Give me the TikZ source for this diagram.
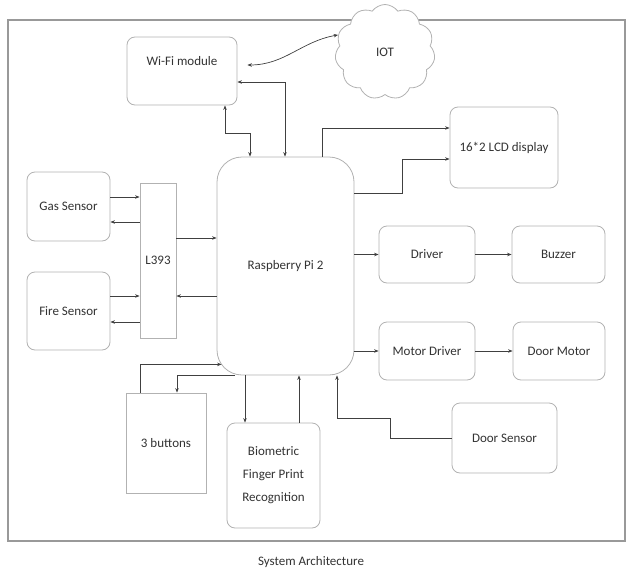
\documentclass[tikz,border=0pt]{standalone}
\usepackage{fontspec}
\setmainfont{Carlito}
\usetikzlibrary{shapes.symbols,arrows.meta}

\tikzset{
  box/.style={draw=black!30, fill=white, rounded corners=8pt, line width=0.8pt, text=black!80},
  sqbox/.style={draw=black!30, fill=white, line width=0.8pt, text=black!80},
  link/.style={draw=black!75, line width=0.7pt}
}

\begin{document}
\begin{tikzpicture}[x=1pt, y=-1pt, font=\fontsize{13}{15}\selectfont,
  >={Stealth[length=4.5pt,width=3.5pt]}]
  \useasboundingbox (0,0) rectangle (627,573);
  \draw[black!40, line width=1.6pt] (8,20) rectangle (625,541);

  \node[box, minimum width=110pt, minimum height=68pt,
    label={[below=16pt, text=black!80]north:Wi-Fi module}] (wifi) at (182,71) {};
  \node[cloud, cloud puffs=11, cloud puff arc=110, draw=black!30, fill=white,
    line width=0.8pt, text=black!80, minimum width=100pt, minimum height=95pt] (iot) at (385,52) {IOT};
  \node[box, minimum width=108pt, minimum height=81pt] (lcd) at (504,147.5) {16*2 LCD display};
  \node[box, rounded corners=25pt, minimum width=137pt, minimum height=218pt] (pi) at (285.5,266) {Raspberry Pi 2};

  \node[box, minimum width=96pt, minimum height=57pt] (drv) at (427,254.5) {Driver};
  \node[box, minimum width=93pt, minimum height=57pt] (buz) at (558.5,254.5) {Buzzer};
  \node[box, minimum width=96pt, minimum height=58pt] (mdrv) at (427,351) {Motor Driver};
  \node[box, minimum width=92pt, minimum height=58pt] (dmot) at (559,351) {Door Motor};
  \node[box, minimum width=105pt, minimum height=70pt] (dsen) at (504.5,438) {Door Sensor};

  \node[box, minimum width=93pt, minimum height=105pt, align=center,
    font=\fontsize{13}{23}\selectfont] (bio) at (273.5,475.5) {Biometric\\Finger Print\\Recognition};
  \node[sqbox, minimum width=80pt, minimum height=100pt] (btn) at (166,443) {3 buttons};

  \node[box, minimum width=83pt, minimum height=69pt] (gas) at (68.5,206.5) {Gas Sensor};
  \node[box, minimum width=83pt, minimum height=78pt] (fire) at (68.5,311) {Fire Sensor};
  \node[sqbox, minimum width=36pt, minimum height=155pt] (lm) at (158,260.5) {L393};

  \node[text=black!80] (cap) at (311,562) {System Architecture};

  % wifi and cloud
  \draw[link, <->] (wifi.south -| 225,0) |- (250,133) -- (pi.north -| 250,0);
  \draw[link, <->] (wifi.east |- 0,82) -| (pi.north -| 285,0);
  \draw[link, <->] ([xshift=10pt, yshift=6pt]wifi.east) to[out=0, in=190] (iot.160);

  % outputs
  \draw[link, ->] (pi.north -| 322,0) |- (lcd.west |- 0,128);
  \draw[link, ->] (pi.east |- 0,193) -| (402,159) -- (lcd.west |- 0,159);
  \draw[link, ->] (pi.east |- drv.west) -- (drv.west);
  \draw[link, ->] (drv) -- (buz);
  \draw[link, ->] (pi.east |- mdrv.west) -- (mdrv.west);
  \draw[link, ->] (mdrv) -- (dmot);
  \draw[link, ->] (dsen.west) -| (390,418) -| (pi.south -| 337,0);

  % bottom
  \draw[link, ->] (pi.south -| 245,0) -- (bio.north -| 245,0);
  \draw[link, ->] (bio.north -| 299,0) -- (pi.south -| 299,0);
  \draw[link, ->] (btn.north -| 140,0) |- ([shift={(5pt,11pt)}]pi.south west);
  \draw[link, ->] (pi.south -| 235,0) -| (btn.north -| 177,0);

  % sensors
  \draw[link, ->] (gas.east |- 0,197) -- (lm.west |- 0,197);
  \draw[link, ->] (lm.west |- 0,222) -- (gas.east |- 0,222);
  \draw[link, ->] (fire.east |- 0,296) -- (lm.west |- 0,296);
  \draw[link, ->] (lm.west |- 0,322) -- (fire.east |- 0,322);
  \draw[link, ->] (lm.east |- 0,238) -- (pi.west |- 0,238);
  \draw[link, ->] (pi.west |- 0,296) -- (lm.east |- 0,296);
\end{tikzpicture}
\end{document}
